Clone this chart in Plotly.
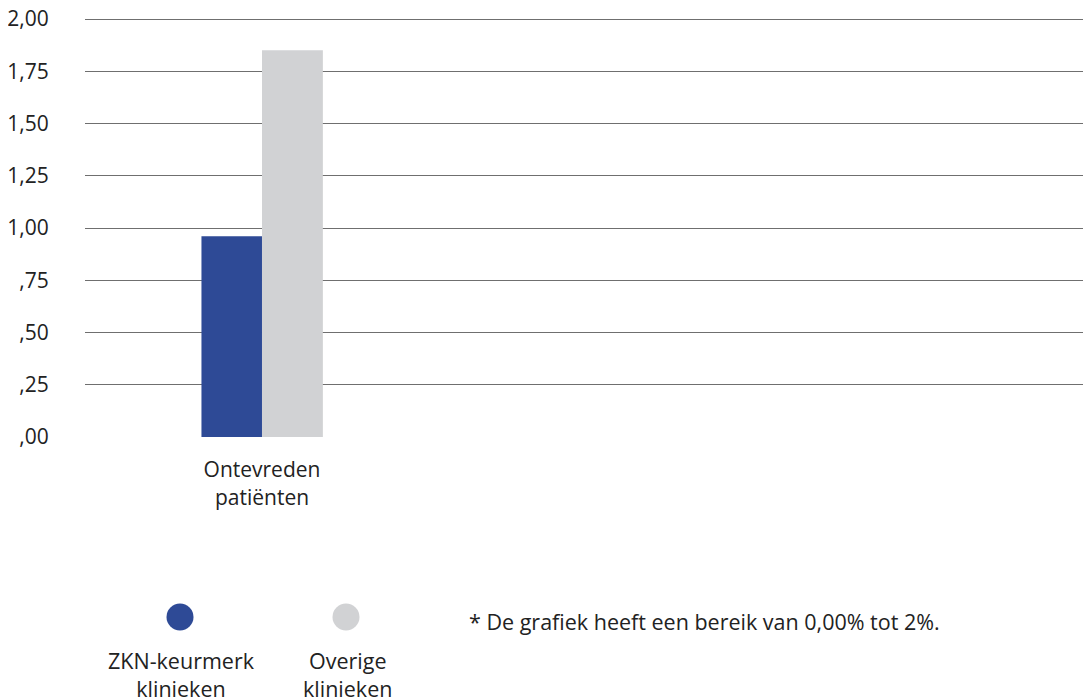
import plotly.graph_objects as go

categories = ["Ontevreden<br>patiënten"]
series_names = ["ZKN-keurmerk<br>klinieken", "Overige<br>klinieken"]
zkn_values = [0.96]
overige_values = [1.85]
colors = ["#2E4A96", "#D1D2D4"]
y_tickvals = [0, 0.25, 0.5, 0.75, 1.0, 1.25, 1.5, 1.75, 2.0]
y_ticktext = [",00", ",25", ",50", ",75", "1,00", "1,25", "1,50", "1,75", "2,00"]
footnote = "* De grafiek heeft een bereik van 0,00% tot 2%."

FONT = "Open Sans"
TXT = "#222222"
FS = 21

# page has an 8px body margin; compensate so the plot lands where the reference has it
OFF = 8
PL, PR, PT, PB = 85, 1091, 17, 437   # plot area in page pixels
SCALE = 209.0                         # px per unit on y (0 -> 437, 2 -> 19)
YTOP = (PB - PT) / SCALE
W = PR - OFF
H = 700 - OFF
ML = PL - OFF
MT = PT - OFF
MB = H - (PB - OFF)
PW = PR - PL
PH = PB - PT

fig = go.Figure()
fig.add_trace(go.Bar(x=categories, y=zkn_values, name=series_names[0],
                     marker=dict(color=colors[0], line=dict(width=0)),
                     width=0.171, offset=-0.171, showlegend=False))
fig.add_trace(go.Bar(x=categories, y=overige_values, name=series_names[1],
                     marker=dict(color=colors[1], line=dict(width=0)),
                     width=0.172, offset=0.0, showlegend=False))

fig.update_layout(
    width=W, height=H,
    margin=dict(l=ML, r=0, t=MT, b=MB, autoexpand=False),
    plot_bgcolor="white", paper_bgcolor="white",
    font=dict(family=FONT, size=FS, color=TXT),
    barmode="overlay",
    xaxis=dict(type="category", range=[-0.5, 2.342], showgrid=False,
               showline=False, zeroline=False, ticks="outside", ticklen=14,
               automargin=False,
               tickcolor="rgba(0,0,0,0)", tickfont=dict(size=FS, color=TXT)),
    yaxis=dict(range=[0, YTOP], tickvals=y_tickvals, ticktext=y_ticktext,
               showgrid=True, gridcolor="#6f6f6f", gridwidth=1,
               zeroline=False, showline=False, ticks="outside", ticklen=31,
               automargin=False,
               tickcolor="rgba(0,0,0,0)", ticklabeloverflow="allow",
               tickfont=dict(size=FS, color=TXT)),
)

def px(x):
    return (x - PL) / PW

def py(y):
    return (PB - y) / PH

legend_x = [180, 346]
r = 13.5
shapes = []
annotations = []
for i, (name, col) in enumerate(zip(series_names, colors)):
    cx = legend_x[i]
    cy = 617
    shapes.append(dict(type="circle", xref="paper", yref="paper",
                       x0=px(cx - r), x1=px(cx + r),
                       y0=py(cy + r), y1=py(cy - r),
                       fillcolor=col, line=dict(width=0)))
    annotations.append(dict(text=name, xref="paper", yref="paper",
                            x=px(cx + 1), y=py(674),
                            xanchor="center", yanchor="middle", showarrow=False,
                            font=dict(family=FONT, size=21.5, color=TXT), align="center"))
annotations.append(dict(text=footnote, xref="paper", yref="paper",
                        x=px(467), y=py(621),
                        xanchor="left", yanchor="middle", showarrow=False,
                        font=dict(family=FONT, size=21.5, color=TXT)))
fig.update_layout(shapes=shapes, annotations=annotations)

fig.write_html("out.html")
